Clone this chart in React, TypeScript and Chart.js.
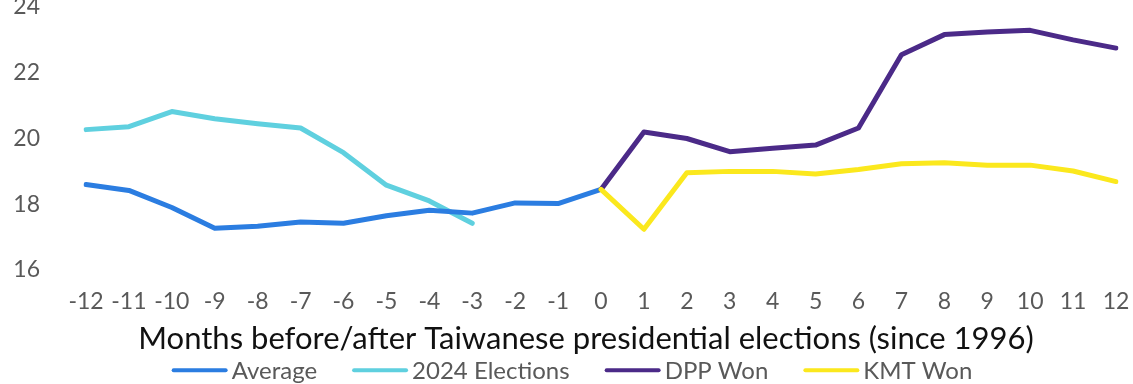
import React, { useEffect, useRef } from "react";
import { Chart, registerables } from "chart.js";

Chart.register(...registerables);

const months = ["-12","-11","-10","-9","-8","-7","-6","-5","-4","-3","-2","-1","0","1","2","3","4","5","6","7","8","9","10","11","12"];

const averageValues = [18.6, 18.42, 17.9, 17.27, 17.33, 17.46, 17.42, 17.65, 17.82, 17.73, 18.04, 18.02, 18.45, null, null, null, null, null, null, null, null, null, null, null, null];
const elections2024Values = [20.27, 20.36, 20.82, 20.6, 20.45, 20.32, 19.57, 18.58, 18.1, 17.42, null, null, null, null, null, null, null, null, null, null, null, null, null, null, null];
const dppWonValues = [null, null, null, null, null, null, null, null, null, null, null, null, 18.45, 20.2, 20.0, 19.6, 19.7, 19.8, 20.32, 22.55, 23.16, 23.24, 23.29, 23.0, 22.75];
const kmtWonValues = [null, null, null, null, null, null, null, null, null, null, null, null, 18.45, 17.24, 18.96, 19.0, 19.0, 18.92, 19.06, 19.23, 19.26, 19.19, 19.19, 19.01, 18.69];

const yTicks = [16, 18, 20, 22, 24];

const seriesNames = ["Average", "2024 Elections", "DPP Won", "KMT Won"];
const seriesColors = ["#2b7de1", "#5fd0df", "#4b2a88", "#fbe81d"];
const xTitle = "Months before/after Taiwanese presidential elections (since 1996)";

const FONT = "Lato, 'Noto Sans', sans-serif";
const GREY = "#595959";
const CANVAS_TOP = -15;
const CANVAS_H = 399;

// Custom title + legend (positioned like the reference)
const bottomTextPlugin = {
  id: "bottomText",
  afterDraw(chart: any) {
    const ctx = chart.ctx as CanvasRenderingContext2D;
    ctx.save();
    // axis title
    ctx.font = `31px ${FONT}`;
    ctx.fillStyle = "#111111";
    ctx.textAlign = "center";
    ctx.textBaseline = "alphabetic";
    ctx.fillText(xTitle, 586, 348.5 - CANVAS_TOP);

    // legend
    const lineW = 56;
    const gapText = 4;
    const gapItem = 35;
    ctx.font = `24px ${FONT}`;
    const widths = seriesNames.map((n) => ctx.measureText(n).width);
    const total = widths.reduce((s, w) => s + lineW + gapText + w, 0) + gapItem * (seriesNames.length - 1);
    let x = 572 - total / 2;
    const y = 370.3 - CANVAS_TOP;
    ctx.textAlign = "left";
    ctx.textBaseline = "middle";
    seriesNames.forEach((name, i) => {
      ctx.beginPath();
      ctx.strokeStyle = seriesColors[i];
      ctx.lineWidth = 4;
      ctx.lineCap = "round";
      ctx.moveTo(x + 2, y);
      ctx.lineTo(x + lineW - 2, y);
      ctx.stroke();
      ctx.fillStyle = GREY;
      ctx.fillText(name, x + lineW + gapText, y + 0.5);
      x += lineW + gapText + widths[i] + gapItem;
    });
    ctx.restore();
  },
};

export default function App() {
  const ref = useRef<HTMLCanvasElement | null>(null);
  useEffect(() => {
    if (!ref.current) return;
    const mk = (i: number, data: (number | null)[], order: number) => ({
      label: seriesNames[i],
      data,
      borderColor: seriesColors[i],
      backgroundColor: seriesColors[i],
      borderWidth: 5,
      borderCapStyle: "round" as const,
      borderJoinStyle: "round" as const,
      pointRadius: 0,
      pointHoverRadius: 0,
      fill: false,
      tension: 0,
      spanGaps: false,
      order,
    });
    const chart = new Chart(ref.current, {
      type: "line",
      data: {
        labels: months,
        datasets: [
          mk(0, averageValues, 2),
          mk(1, elections2024Values, 3),
          mk(2, dppWonValues, 1),
          mk(3, kmtWonValues, 0),
        ],
      },
      plugins: [bottomTextPlugin],
      options: {
        animation: false,
        responsive: false,
        maintainAspectRatio: false,
        layout: { padding: { top: 22, left: 0, right: 17, bottom: 67.4 } },
        plugins: {
          tooltip: { enabled: false },
          legend: { display: false },
        },
        scales: {
          x: {
            grid: { display: true, color: "rgba(0,0,0,0)", drawOnChartArea: false, drawTicks: true, tickLength: 17 },
            border: { display: false },
            ticks: {
              color: GREY,
              font: { family: FONT, size: 23 },
              maxRotation: 0,
              autoSkip: false,
              padding: 1,
            },
          },
          y: {
            min: 16,
            max: 24,
            afterBuildTicks: (axis: any) => {
              axis.ticks = yTicks.map((v) => ({ value: v }));
            },
            afterFit: (axis: any) => {
              axis.width = 86;
            },
            grid: { display: true, color: "rgba(0,0,0,0)", drawOnChartArea: false, drawTicks: true, tickLength: 44 },
            border: { display: false },
            ticks: {
              color: GREY,
              font: { family: FONT, size: 23 },
              padding: 2,
            },
          },
        },
      },
    });
    return () => chart.destroy();
  }, []);
  return (
    <div style={{ position: "fixed", left: 0, top: 0, width: 1133, height: 384, overflow: "hidden" }}>
      <div style={{ position: "absolute", left: 0, top: CANVAS_TOP, width: 1133, height: CANVAS_H }}>
        <canvas ref={ref} width={1133} height={CANVAS_H} style={{ display: "block", width: 1133, height: CANVAS_H }} />
      </div>
    </div>
  );
}
